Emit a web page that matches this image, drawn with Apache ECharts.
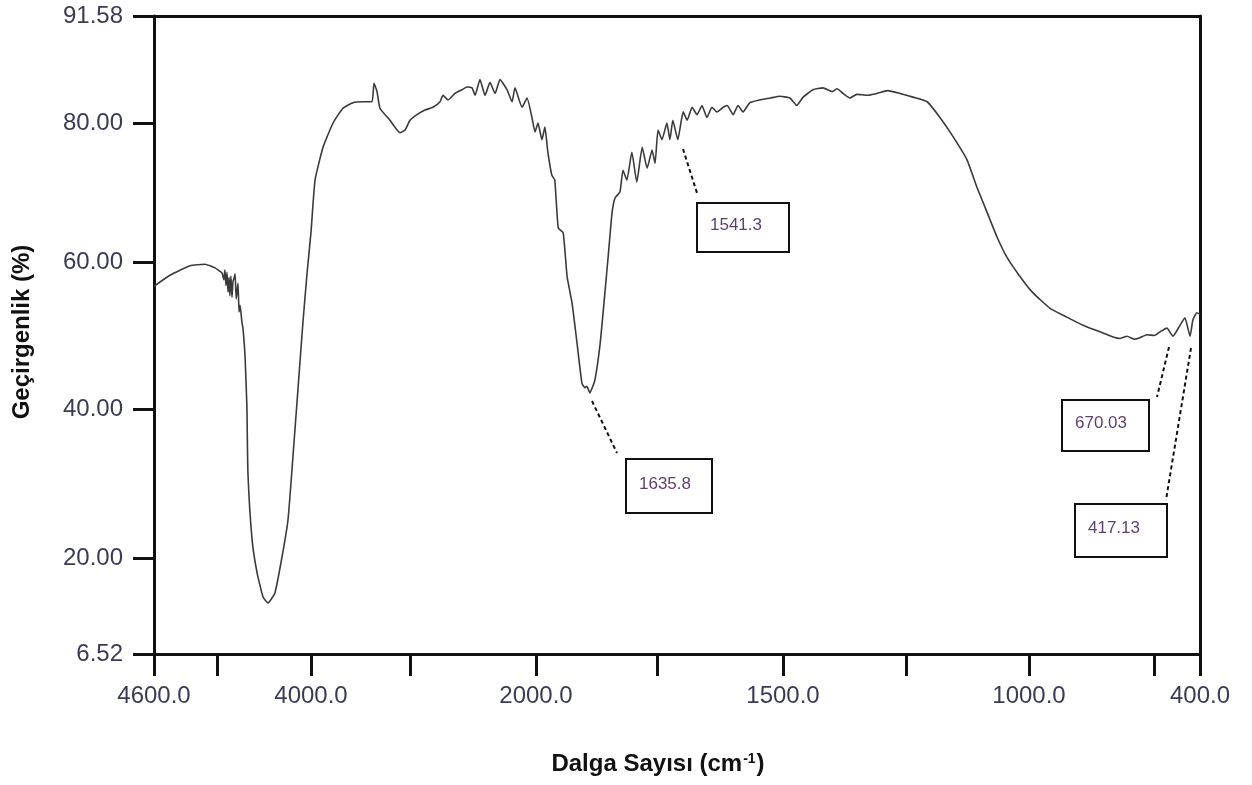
<!DOCTYPE html>
<html>
<head>
<meta charset="utf-8">
<script src="https://cdn.jsdelivr.net/npm/echarts@6/dist/echarts.min.js"></script>
<style>html,body{margin:0;padding:0;background:#fff;}#chart{width:1252px;height:785px;}</style>
</head>
<body>
<div id="chart"></div>
<script>
// ---- data ----
const wavenumber = [4600,4539,4462,4405,4367,4340,4333,4329,4325,4321,4317,4313,4310,4306,4302,4298,4294,4290,4286,4283,4279,4275,4271,4264,4260,4252,4245,4241,4225,4206,4183,4164,4138,4111,4088,4069,4050,4031,4015,
  4000,3964,3893,3804,3716,3627,3538,3458,3440,3413,3387,3298,3209,3164,3120,3058,2987,2916,2853,2827,2782,2720,2658,2613,2569,2542,2498,2453,2409,2364,2320,2258,2213,2187,2124,2080,2036,2009,
  1996,1988,1982,1976,1968,1962,1955,1945,1937,1927,1917,1907,1901,1897,1891,1881,1870,1860,1854,1846,1840,1830,1824,1816,1806,1796,1785,1775,1765,1759,1753,1745,1735,1729,1723,1713,1702,1694,1684,1674,1664,1654,1644,1634,1621,1613,1601,1591,1581,1567,1547,1526,1506,
  1486,1472,1459,1439,1419,1400,1390,1378,1364,1350,1329,1309,1287,1262,1236,1207,1181,1154,1126,1106,1085,1065,1045,1018,
  986,926,867,811,751,705,680,656,630,611,586,560,540,516,495,470,453,435,425,411,400];
const transmittance = [56.7,58.2,59.5,59.7,59.2,58.5,57.6,58.9,56.8,58.6,55.9,57.9,55.4,58.1,55.2,57.4,57.8,58.4,55.0,55.8,57.1,53.2,54.1,51.8,51.0,47.1,40.3,31.4,22.4,17.9,14.5,13.7,15.1,20.1,25.1,33.6,42.6,51.7,58.5,
  64.3,71.8,76.5,80.0,81.6,82.2,82.3,82.3,84.3,83.4,81.6,80.3,78.6,79.0,80.3,80.9,81.4,81.7,82.3,83.0,82.5,83.2,83.6,83.9,83.8,83.0,84.7,83.0,84.4,83.2,84.7,83.6,82.3,83.8,81.7,82.7,80.6,78.7,
  80.0,77.6,79.4,75.8,72.5,71.8,64.9,64.2,58.0,54.4,49.0,43.5,42.9,43.1,42.2,43.9,49.0,56.2,60.7,67.1,69.2,70.1,73.2,71.8,75.8,71.5,76.5,73.5,76.1,74.2,79.0,77.6,80.0,77.6,80.3,77.6,81.2,80.3,81.7,80.9,81.9,80.6,81.7,81.2,81.7,81.9,80.9,81.9,81.2,82.2,82.5,82.7,82.9,
  82.7,81.9,82.8,83.6,83.8,83.4,83.7,83.2,82.7,83.1,83.0,83.2,83.5,83.2,82.8,82.3,80.6,78.0,74.7,70.8,67.1,63.6,60.7,58.0,
  55.8,53.7,52.5,51.4,50.5,49.8,49.6,49.9,49.5,49.7,50.1,50.0,50.5,51.0,49.9,51.4,52.4,49.9,52.1,53.1,52.9];
const xTickLabels = [4600, 4000, 2000, 1500, 1000, 400];
const xMinorTicks = [4360, 3120, 1755, 1250, 560];
const yTickLabels = [6.52, 20, 40, 60, 80, 91.58];
const annotationLabels = ['1541.3', '1635.8', '670.03', '417.13'];
const xTitle = 'Dalga Sayısı (cm';
const yTitle = 'Geçirgenlik (%)';

// ---- layout: piecewise (broken) axis scales, tick value -> axis units ----
const X_POS = [0, 157, 382, 629, 875, 1046];
const Y_POS = [0, 96, 245, 392, 531, 638];
function piece(v, dom, rng) {
  for (let i = 0; i < dom.length - 1; i++) {
    const a = dom[i], b = dom[i + 1];
    if ((v - a) * (v - b) <= 0) return rng[i] + (v - a) / (b - a) * (rng[i + 1] - rng[i]);
  }
  return v;
}
const xs = v => piece(v, xTickLabels, X_POS);
const ys = v => piece(v, yTickLabels, Y_POS);
const seriesData = wavenumber.map((w, i) => [xs(w), ys(transmittance[i])]);
const xLabelPos = xTickLabels.map(xs);
const xTickPos = xLabelPos.concat(xMinorTicks.map(xs));
const yLabelPos = yTickLabels.map(ys);
function labelFor(v, pos, labels, d) {
  for (let i = 0; i < pos.length; i++) if (Math.abs(pos[i] - v) < 0.01) return labels[i].toFixed(d);
  return '';
}

const FONT = 'Arial, "Liberation Sans", sans-serif';
const AX = { color: '#111', width: 3 };
const labelColor = '#3b3b55';

const chart = echarts.init(document.getElementById('chart'), null, { renderer: 'canvas' });

const boxes = [
  { l: 697, t: 203, w: 92, h: 49, line: [683, 149, 697, 193] },
  { l: 626, t: 459, w: 86, h: 54, line: [592, 401, 617, 453] },
  { l: 1062, t: 400, w: 87, h: 51, line: [1169, 347, 1157, 397] },
  { l: 1075, t: 504, w: 92, h: 53, line: [1191, 348, 1166, 500] }
];
const graphics = [];
boxes.forEach((b, i) => {
  graphics.push({ type: 'line', shape: { x1: b.line[0], y1: b.line[1], x2: b.line[2], y2: b.line[3] },
    style: { stroke: '#111', lineWidth: 2, lineDash: [4, 3] }, z: 10 });
  graphics.push({ type: 'rect', shape: { x: b.l, y: b.t, width: b.w, height: b.h },
    style: { fill: '#fff', stroke: '#111', lineWidth: 2 }, z: 10 });
  graphics.push({ type: 'text', x: b.l + 13, y: b.t + b.h / 2 - 2,
    style: { text: annotationLabels[i], font: '17px ' + FONT, fill: '#5e3f70', textAlign: 'left', textVerticalAlign: 'middle' }, z: 11 });
});
graphics.push({ type: 'text', x: 658, y: 764,
  style: { text: '{n|' + xTitle + '}{s|-1}{n|)}', textAlign: 'center', textVerticalAlign: 'middle',
    rich: { n: { fontSize: 24, fontWeight: 'bold', fontFamily: FONT, fill: '#111', color: '#111' },
            s: { fontSize: 14, fontWeight: 'bold', fontFamily: FONT, fill: '#111', color: '#111', verticalAlign: 'top', padding: [0, 1, 10, 1] } } } });
graphics.push({ type: 'text', x: 22, y: 332, rotation: Math.PI / 2,
  style: { text: yTitle, font: 'bold 24px ' + FONT, fill: '#111', textAlign: 'center', textVerticalAlign: 'middle' } });

chart.setOption({
  animation: false,
  backgroundColor: '#fff',
  grid: { left: 154, right: 52, top: 16, bottom: 131, containLabel: false, outerBoundsMode: 'none' },
  xAxis: [{
    type: 'value', min: 0, max: 1046, position: 'bottom',
    axisLine: { show: true, onZero: false, lineStyle: AX },
    axisTick: { show: true, length: 22, lineStyle: AX, customValues: xTickPos },
    axisLabel: { show: true, margin: 30, fontSize: 24, fontFamily: FONT, color: labelColor, customValues: xLabelPos,
      formatter: v => labelFor(v, xLabelPos, xTickLabels, 1) },
    splitLine: { show: false }
  }, {
    type: 'value', min: 0, max: 1046, position: 'top',
    axisLine: { show: true, onZero: false, lineStyle: AX },
    axisTick: { show: false }, axisLabel: { show: false }, splitLine: { show: false }
  }],
  yAxis: [{
    type: 'value', min: 0, max: 638, position: 'left',
    axisLine: { show: true, onZero: false, lineStyle: AX },
    axisTick: { show: true, length: 21, lineStyle: AX, customValues: yLabelPos },
    axisLabel: { show: true, margin: 31, fontSize: 24, fontFamily: FONT, color: labelColor, customValues: yLabelPos,
      formatter: v => labelFor(v, yLabelPos, yTickLabels, 2) },
    splitLine: { show: false }
  }, {
    type: 'value', min: 0, max: 638, position: 'right',
    axisLine: { show: true, onZero: false, lineStyle: AX },
    axisTick: { show: false }, axisLabel: { show: false }, splitLine: { show: false }
  }],
  series: [{
    type: 'line', xAxisIndex: 0, yAxisIndex: 0, data: seriesData,
    showSymbol: false, smooth: 0.15,
    lineStyle: { color: '#3a3a3a', width: 1.6 }
  }],
  graphic: graphics
});
</script>
</body>
</html>
